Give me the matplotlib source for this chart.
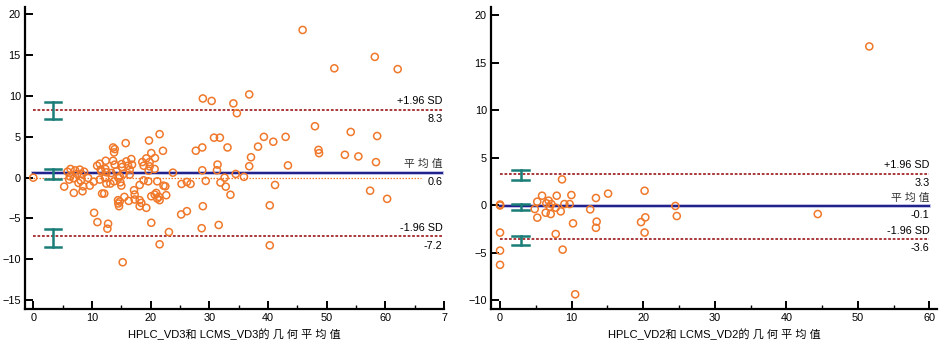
import numpy as np
import matplotlib
matplotlib.use("Agg")
import matplotlib.pyplot as plt
from matplotlib.ticker import MultipleLocator

plt.rcParams['font.family'] = ['Liberation Sans', 'Noto Sans CJK SC', 'DejaVu Sans']

# ---- left panel: VD3 (mean, difference) ----
vd3_mean = [45.9, 58.2, 51.3, 62.1, 36.8, 28.9, 30.4, 34.1, 34.7, 48.0,
            54.1, 39.3, 43.0, 58.6, 30.8, 31.8, 40.9, 38.3, 33.1, 28.8,
            27.7, 48.6, 48.7, 53.1, 55.4, 37.1, 58.4, 36.8, 31.4, 43.4,
            28.8, 31.3, 34.5, 35.9, 32.6, 29.4, 31.9, 32.8, 41.2, 33.6,
            57.4, 60.3, 28.9, 40.3, 28.7, 31.6, 40.3, 0.0,
            6.35, 7.14, 7.93, 8.67, 8.22, 7.48, 6.23, 5.84, 6.91, 5.27,
            6.91, 6.12, 8.10, 8.50, 8.39, 7.71, 9.63, 10.3, 10.37, 10.93,
            12.75, 12.63, 10.88, 11.33, 12.35, 12.29, 11.5, 13.6, 13.77, 13.88,
            15.75, 13.6, 13.88, 15.07, 15.86, 16.15, 16.71, 16.83, 11.61, 12.46,
            13.31, 14.16, 14.73, 15.41, 16.43, 11.33, 12.24, 12.46, 13.14, 13.77,
            14.5, 15.01, 14.84, 11.73, 12.1, 14.45, 14.5, 14.62, 14.73, 15.52,
            16.26, 17.17, 17.28, 17.28, 18.13, 18.41, 18.13, 19.26, 18.58, 18.81,
            19.26, 19.72, 20.11, 19.83, 19.83, 19.66, 20.68, 20.74, 22.1, 21.53,
            20.11, 20.68, 21.13, 20.96, 21.42, 21.53, 22.66, 18.81, 19.6, 21.13,
            22.2, 22.5, 23.8, 20.11, 23.12, 21.53, 25.2, 26.18, 25.27, 26.18,
            26.8, 18.13, 15.24, 16.43, 15.13, 9.35]
vd3_diff = [18.1, 14.8, 13.4, 13.3, 10.2, 9.7, 9.4, 9.1, 7.9, 6.3,
            5.6, 5.0, 5.0, 5.1, 4.9, 4.9, 4.4, 3.8, 3.7, 3.7,
            3.3, 3.4, 3.0, 2.8, 2.6, 2.5, 1.9, 1.4, 1.6, 1.5,
            0.9, 0.9, 0.45, 0.1, 0.0, -0.4, -0.6, -1.1, -0.9, -2.1,
            -1.6, -2.6, -3.5, -3.4, -6.2, -5.8, -8.3, 0.0,
            1.06, 0.89, 0.98, 0.73, 0.45, 0.45, 0.16, 0.73, -0.08, -1.10,
            -1.87, -0.24, -0.37, -1.06, -1.67, -0.65, -0.98, -0.49, -4.31, -5.45,
            -5.65, -6.26, 1.46, 1.71, 2.07, 1.06, 0.98, 3.70, 3.09, 3.50,
            4.23, 2.07, 1.59, 1.67, 1.99, 1.46, 2.28, 1.59, 0.77, 0.65,
            0.57, 0.77, 0.16, 0.45, 0.37, -0.24, -0.04, -0.73, -0.73, -0.45,
            -0.04, -0.98, -0.57, -1.95, -1.95, -2.76, -3.17, -3.50, -2.93, -2.36,
            -2.85, -1.54, -2.07, -2.68, -2.76, -3.09, -3.50, -3.70, 1.91, 1.46,
            2.36, 4.55, 3.01, 1.91, 1.38, 0.85, 1.06, 2.40, 3.29, 5.33,
            -2.28, -2.07, -2.56, -1.87, -2.36, -2.76, -2.15, -0.33, -0.45, -0.45,
            -0.98, -1.06, 0.61, -5.53, -6.67, -8.17, -4.51, -4.11, -0.77, -0.53,
            -0.77, -0.9, -10.37, 0.98, 1.30, -0.04]

# ---- right panel: VD2 (mean, difference) ----
vd2_mean = [51.6, 8.66, 0.0, 0.0, 0.0, 0.0, 0.0, 10.5, 5.87, 5.2,
            6.79, 7.92, 7.17, 6.47, 6.94, 4.85, 6.38, 7.08, 5.21, 8.48,
            7.78, 8.99, 9.73, 9.97, 10.2, 12.6, 13.4, 15.1, 13.5, 13.4,
            7.78, 8.75, 20.2, 19.7, 20.3, 20.2, 24.5, 24.7, 44.4]
vd2_diff = [16.7, 2.7, 0.05, -0.05, -2.9, -4.8, -6.3, -9.4, 0.98, 0.35,
            0.46, 0.98, 0.1, 0.18, -0.18, -0.42, -0.81, -0.95, -1.33, -0.67,
            -0.28, 0.1, 0.1, 1.05, -1.93, -0.46, 0.74, 1.2, -1.75, -2.4,
            -3.05, -4.7, 1.5, -1.8, -1.3, -2.9, -0.1, -1.16, -0.95]

# limits of agreement and their 95% CI
vd3_stats = {'mean': 0.6, 'upper': 8.3, 'lower': -7.2}
vd3_ci = {'upper': (7.15, 9.28), 'mean': (-0.2, 1.08), 'lower': (-8.55, -6.34)}
vd2_stats = {'mean': -0.1, 'upper': 3.3, 'lower': -3.6}
vd2_ci = {'upper': (2.66, 3.68), 'mean': (-0.53, 0.1), 'lower': (-4.25, -3.26)}

ORANGE = '#f0782a'
NAVY = '#22228c'
DARKRED = '#a3282b'
TEAL = '#1b7d78'


def bland_altman(ax, x, y, stats, ci, xlim, ylim, xmax, zero_end, ci_x, ci_w,
                 xticks, yticks, xticklabels, xlabel):
    ax.set_xlim(*xlim)
    ax.set_ylim(*ylim)

    ax.plot([0, zero_end], [0, 0], ls=(0, (1.2, 1.2)), color=ORANGE, lw=0.9, zorder=1)
    ax.plot([0, xmax], [stats['upper']] * 2, ls=(0, (1.5, 1.0)), color=DARKRED, lw=1.3, zorder=1)
    ax.plot([0, xmax], [stats['lower']] * 2, ls=(0, (1.5, 1.0)), color=DARKRED, lw=1.3, zorder=1)
    ax.plot([0, xmax], [stats['mean']] * 2, color='#8c8cd0', lw=2.8, zorder=1, alpha=0.5)
    ax.plot([0, xmax], [stats['mean']] * 2, color=NAVY, lw=1.5, zorder=2)

    for key in ('upper', 'mean', 'lower'):
        lo, hi = ci[key]
        ax.plot([ci_x, ci_x], [lo, hi], color=TEAL, lw=1.8, zorder=3)
        ax.plot([ci_x - ci_w, ci_x + ci_w], [lo, lo], color=TEAL, lw=1.8, zorder=3)
        ax.plot([ci_x - ci_w, ci_x + ci_w], [hi, hi], color=TEAL, lw=1.8, zorder=3)

    ax.scatter(x, y, s=26, facecolors='none', edgecolors=ORANGE, linewidths=1.1, zorder=4)

    fs = 7.8
    labels = [('upper', '+1.96 SD'), ('mean', '平 均 值'), ('lower', '-1.96 SD')]
    for key, name in labels:
        v = stats[key]
        ax.annotate(name, (xmax, v), xytext=(0, 2.5), textcoords='offset points',
                    ha='right', va='bottom', fontsize=fs,
                    color='#333333' if key == 'mean' else 'black')
        ax.annotate('%.1f' % v, (xmax, v), xytext=(0, -3), textcoords='offset points',
                    ha='right', va='top', fontsize=fs)

    ax.spines['top'].set_visible(False)
    ax.spines['right'].set_visible(False)
    ax.spines['left'].set_linewidth(1.6)
    ax.spines['bottom'].set_linewidth(1.6)

    ax.set_xticks(xticks)
    ax.set_xticklabels(xticklabels)
    ax.set_yticks(yticks)
    ax.xaxis.set_minor_locator(MultipleLocator(5))
    ax.tick_params(axis='both', which='major', direction='in', length=6, width=1.4,
                   labelsize=7.8, pad=3)
    ax.tick_params(axis='x', which='minor', direction='in', length=3, width=1.0)
    ax.set_xlabel(xlabel, fontsize=8, labelpad=4)


fig = plt.figure(figsize=(9.45, 3.47), dpi=100)
ax1 = fig.add_axes([0.0265, 0.1095, 0.4434, 0.870])
ax2 = fig.add_axes([0.5196, 0.1095, 0.472, 0.870])

bland_altman(ax1, vd3_mean, vd3_diff, vd3_stats, vd3_ci,
             xlim=(-1.4, 69.7), ylim=(-16.1, 20.9), xmax=69.7, zero_end=66,
             ci_x=3.35, ci_w=1.4,
             xticks=[0, 10, 20, 30, 40, 50, 60, 70], yticks=[-15, -10, -5, 0, 5, 10, 15, 20],
             xticklabels=['0', '10', '20', '30', '40', '50', '60', '7'],
             xlabel='HPLC_VD3和 LCMS_VD3的 几 何 平 均 值')

bland_altman(ax2, vd2_mean, vd2_diff, vd2_stats, vd2_ci,
             xlim=(-1.26, 61.07), ylim=(-10.95, 20.84), xmax=60, zero_end=55,
             ci_x=2.9, ci_w=1.2,
             xticks=[0, 10, 20, 30, 40, 50, 60], yticks=[-10, -5, 0, 5, 10, 15, 20],
             xticklabels=['0', '10', '20', '30', '40', '50', '60'],
             xlabel='HPLC_VD2和 LCMS_VD2的 几 何 平 均 值')

fig.savefig('out.png', dpi=100)
